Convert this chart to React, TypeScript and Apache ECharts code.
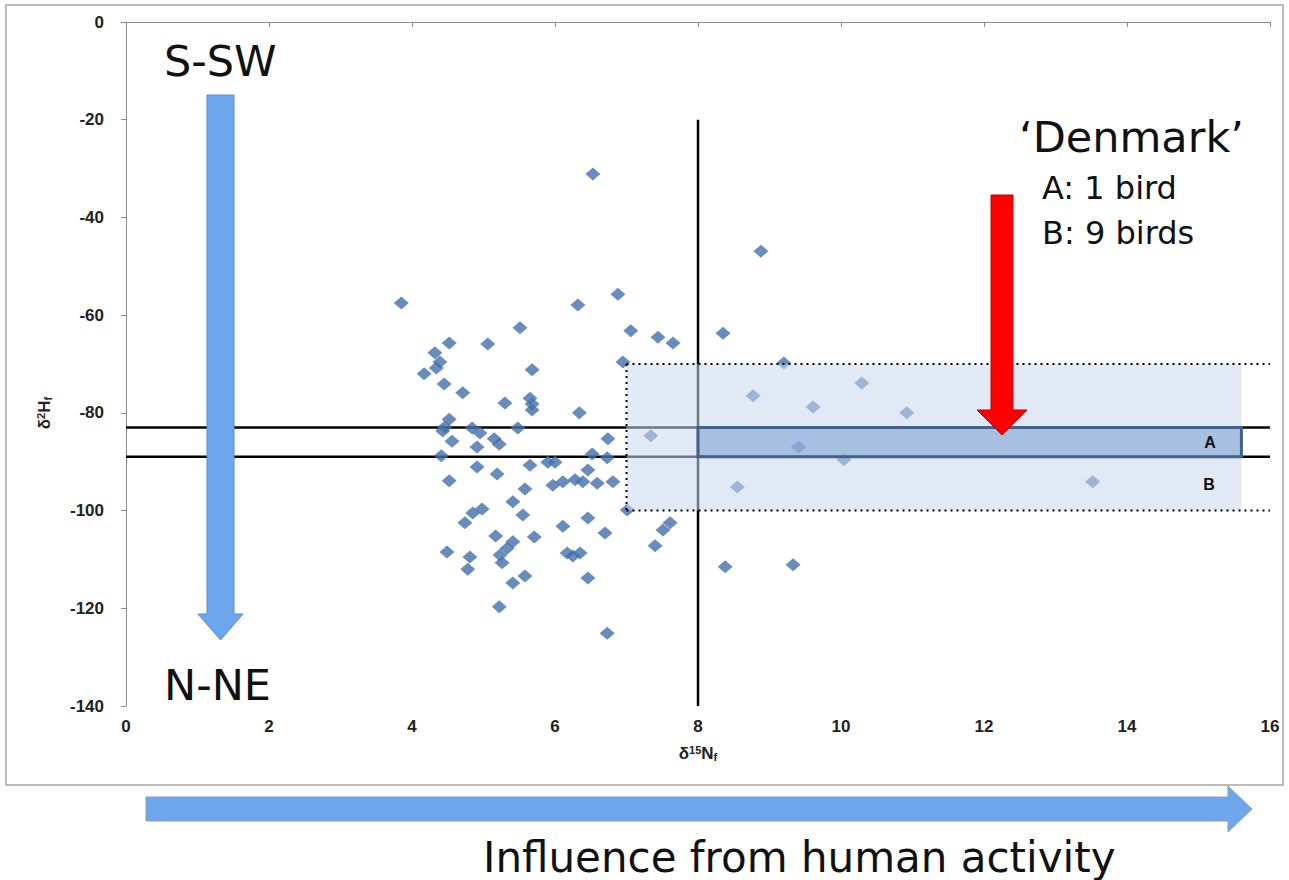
import React, { useEffect, useRef } from "react";
import * as echarts from "echarts";

// δ15N (x) and δ2H (y) values of individual feathers
const nitrogen = [
  3.85, 6.53, 6.32, 6.88, 7.06, 7.44, 7.65, 6.95, 5.51, 5.06, 4.52, 4.32, 4.39, 4.34, 4.17,
  5.68, 4.45, 4.71, 5.3, 5.65, 5.68, 5.68, 6.34, 4.52, 4.46, 4.43, 4.84, 4.95, 5.48, 5.15,
  5.22, 4.56, 4.91, 6.74, 4.41, 6.52, 6.73, 4.91, 5.65, 5.9, 6.0, 6.46, 5.19, 4.52, 5.58,
  5.97, 6.11, 6.28, 6.39, 6.59, 6.81, 5.41, 5.55, 4.85, 4.98, 4.74, 6.11, 6.46, 6.7, 7.01,
  7.61, 7.51, 7.4, 5.71, 5.17, 5.41, 5.33, 5.23, 5.26, 4.49, 4.81, 4.78, 6.17, 6.25, 6.35,
  5.58, 5.41, 6.46, 5.22, 6.73, 8.35, 8.88, 9.2, 8.38, 9.33, 7.34, 10.29, 8.77, 9.61, 10.92,
  9.41, 10.04, 8.55, 13.52,
];
const hydrogen = [
  -57.5, -31.1, -57.9, -55.7, -63.2, -64.5, -65.7, -69.6, -62.6, -65.9, -65.7, -67.7, -69.6, -70.8, -72.0,
  -71.2, -74.1, -75.9, -78.0, -77.0, -78.2, -79.4, -80.0, -81.3, -82.9, -83.7, -83.1, -84.1, -83.1, -85.3,
  -86.4, -85.8, -87.0, -85.3, -88.8, -88.4, -89.2, -91.1, -90.7, -90.1, -90.1, -91.7, -92.5, -93.9, -95.6,
  -94.8, -94.1, -93.7, -94.1, -94.4, -94.1, -98.2, -100.9, -100.5, -99.7, -102.5, -103.2, -101.5, -104.6, -99.9,
  -102.5, -104.0, -107.2, -105.4, -105.2, -106.4, -107.7, -109.1, -110.7, -108.5, -109.5, -112.0, -108.7, -109.3, -108.7,
  -113.4, -114.8, -113.8, -119.7, -125.1, -63.7, -46.9, -69.8, -111.5, -111.1, -84.7, -73.9, -76.5, -78.8, -80.0,
  -87.0, -89.6, -95.2, -94.1,
];

// reference lines and zones
const xRange = [0, 16];
const yRange = [-140, 0];
const xTicks = 2;
const yTicks = 20;
const bandLinesY = [-83, -89];
const splitX = 8;
const splitXRange = [-20, -140];
const zoneB = [7, -70, 15.6, -100];
const zoneA = [8, -83, 15.6, -89];
const dottedH = [-70, -100];
const dottedHRange = [7, 16];

const FONT = "'DejaVu Sans', 'Noto Sans', sans-serif";
const AXFONT = "'Liberation Sans', Arial, sans-serif";

export default function App() {
  const ref = useRef<HTMLDivElement>(null);
  useEffect(() => {
    if (!ref.current) return;
    const chart = echarts.init(ref.current, undefined, { renderer: "svg" });
    const points = nitrogen.map((x, i) => [x, hydrogen[i]]);

    const lineSeries = (data: number[][], z: number, type: any, width: number) => ({
      type: "line",
      data,
      symbol: "none",
      silent: true,
      z,
      lineStyle: { color: "#000", width, type },
    });

    const rectSeries = (rect: number[], z: number, fill: string, stroke: string, lw: number) => ({
      type: "custom",
      z,
      silent: true,
      clip: false,
      data: [rect],
      renderItem: (params: any, api: any) => {
        const p1 = api.coord([api.value(0), api.value(1)]);
        const p2 = api.coord([api.value(2), api.value(3)]);
        return {
          type: "rect",
          shape: {
            x: Math.min(p1[0], p2[0]),
            y: Math.min(p1[1], p2[1]),
            width: Math.abs(p2[0] - p1[0]),
            height: Math.abs(p2[1] - p1[1]),
          },
          style: { fill, stroke, lineWidth: lw },
        };
      },
    });

    const richName = {
      a: { fontSize: 17, fontWeight: "bold", color: "#222", fontFamily: AXFONT },
      s: { fontSize: 11, fontWeight: "bold", color: "#222", verticalAlign: "top", padding: [0, 0, 7, 0], fontFamily: AXFONT },
      b: { fontSize: 11, fontWeight: "bold", color: "#222", verticalAlign: "bottom", padding: [7, 0, 0, 0], fontFamily: AXFONT },
    };

    const option: any = {
      animation: false,
      backgroundColor: "#fff",
      grid: { left: 126, right: 19, top: 22, bottom: 174 },
      xAxis: {
        type: "value",
        min: xRange[0],
        max: xRange[1],
        interval: xTicks,
        splitLine: { show: false },
        axisLine: { lineStyle: { color: "#8c8c8c", width: 1 } },
        axisTick: { show: true, length: 5, lineStyle: { color: "#8c8c8c" } },
        axisLabel: {
          color: "#222",
          fontWeight: "bold",
          fontSize: 17,
          fontFamily: AXFONT,
          margin: 12,
        },
        name: "{a|δ}{s|15}{a|N}{b|f}",
        nameLocation: "middle",
        nameGap: 38,
        nameTextStyle: { rich: richName },
      },
      yAxis: {
        type: "value",
        min: yRange[0],
        max: yRange[1],
        interval: yTicks,
        splitLine: { show: false },
        axisLine: { show: true, lineStyle: { color: "#8c8c8c", width: 1 } },
        axisTick: { show: true, length: 5, lineStyle: { color: "#8c8c8c" } },
        axisLabel: {
          color: "#222",
          fontWeight: "bold",
          fontSize: 17,
          fontFamily: AXFONT,
          margin: 22,
        },
      },
      graphic: [
        {
          type: "rect",
          shape: { x: 6, y: 5, width: 1277, height: 780 },
          style: { fill: "none", stroke: "#a6a6a6", lineWidth: 1.5 },
          z: -1,
          silent: true,
        },
        {
          type: "text",
          x: 44,
          y: 413,
          rotation: Math.PI / 2,
          style: {
            text: "{a|δ}{s|2}{a|H}{b|f}",
            align: "center",
            verticalAlign: "middle",
            rich: {
              a: { fontSize: 17, fontWeight: "bold", fill: "#222", fontFamily: AXFONT },
              s: { fontSize: 11, fontWeight: "bold", fill: "#222", verticalAlign: "top", padding: [0, 0, 7, 0], fontFamily: AXFONT },
              b: { fontSize: 11, fontWeight: "bold", fill: "#222", verticalAlign: "bottom", padding: [7, 0, 0, 0], fontFamily: AXFONT },
            },
          },
        },
        // blue vertical arrow
        {
          type: "polygon",
          z: 10,
          shape: {
            points: [
              [207, 95], [234, 95], [234, 614], [243, 614], [220.5, 640], [198, 614], [207, 614],
            ],
          },
          style: { fill: "#6ea6ee", stroke: "#5a8ad0", lineWidth: 1 },
        },
        // red arrow
        {
          type: "polygon",
          z: 10,
          shape: {
            points: [
              [991, 195], [1013, 195], [1013, 410], [1027, 410], [1002, 435], [977, 410], [991, 410],
            ],
          },
          style: { fill: "#ff0000", stroke: "#c00000", lineWidth: 1 },
        },
        // horizontal arrow
        {
          type: "polygon",
          z: 10,
          shape: {
            points: [
              [146, 797], [1228, 797], [1228, 786], [1252, 809], [1228, 832], [1228, 821], [146, 821],
            ],
          },
          style: { fill: "#6ea6ee", stroke: "#8a9bb5", lineWidth: 1 },
        },
        {
          type: "text",
          x: 164,
          y: 61,
          z: 10,
          style: { text: "S-SW", fontSize: 43, fontFamily: FONT, fill: "#111", verticalAlign: "middle" },
        },
        {
          type: "text",
          x: 164,
          y: 685,
          z: 10,
          style: { text: "N-NE", fontSize: 43, fontFamily: FONT, fill: "#111", verticalAlign: "middle" },
        },
        {
          type: "text",
          x: 1019,
          y: 137,
          z: 10,
          style: { text: "‘Denmark’", fontSize: 43, fontFamily: FONT, fill: "#111", verticalAlign: "middle" },
        },
        {
          type: "text",
          x: 1042,
          y: 188,
          z: 10,
          style: { text: "A: 1 bird", fontSize: 32, fontFamily: FONT, fill: "#111", verticalAlign: "middle" },
        },
        {
          type: "text",
          x: 1042,
          y: 233,
          z: 10,
          style: { text: "B: 9 birds", fontSize: 32, fontFamily: FONT, fill: "#111", verticalAlign: "middle" },
        },
        {
          type: "text",
          x: 483,
          y: 857,
          z: 10,
          style: { text: "Influence from human activity", fontSize: 42, fontFamily: FONT, fill: "#111", verticalAlign: "middle" },
        },
        {
          type: "text",
          x: 1210,
          y: 442,
          z: 10,
          style: { text: "A", fontSize: 16, fontWeight: "bold", fontFamily: AXFONT, fill: "#111", align: "center", verticalAlign: "middle" },
        },
        {
          type: "text",
          x: 1209,
          y: 484,
          z: 10,
          style: { text: "B", fontSize: 16, fontWeight: "bold", fontFamily: AXFONT, fill: "#111", align: "center", verticalAlign: "middle" },
        },
      ],
      series: [
        ...bandLinesY.map((y) => lineSeries([[xRange[0], y], [xRange[1], y]], 1, "solid", 2.5)),
        lineSeries([[splitX, splitXRange[0]], [splitX, splitXRange[1]]], 1, "solid", 2.5),
        {
          type: "scatter",
          data: points,
          symbol: "diamond",
          symbolSize: [15, 13],
          z: 2,
          itemStyle: { color: "#4270ab" },
        },
        rectSeries(zoneB, 3, "rgba(200,215,235,0.55)", "none", 0),
        rectSeries(zoneA, 4, "rgba(110,150,205,0.5)", "#44618a", 3),
        ...dottedH.map((y) => lineSeries([[dottedHRange[0], y], [dottedHRange[1], y]], 5, [2, 4], 2)),
        lineSeries([[zoneB[0], zoneB[1]], [zoneB[0], zoneB[3]]], 5, [2, 4], 2),
      ],
    };
    chart.setOption(option);
    return () => chart.dispose();
  }, []);
  return (
    <div
      ref={ref}
      style={{ position: "absolute", left: 0, top: 0, width: 1289, height: 880 }}
    />
  );
}
